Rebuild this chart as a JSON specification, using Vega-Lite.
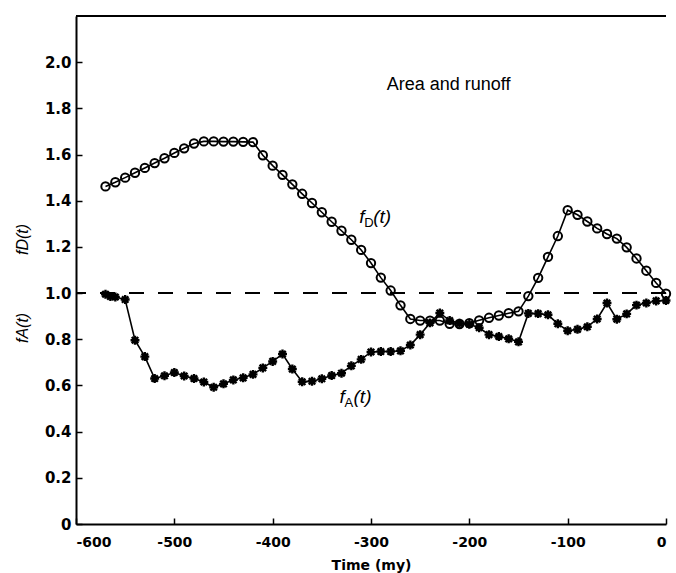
{
  "$schema": "https://vega.github.io/schema/vega-lite/v6.json",
  "width": 676,
  "height": 573,
  "autosize": {"type": "fit", "contains": "padding"},
  "padding": {"left": 14, "top": 15, "right": 0, "bottom": 1},
  "background": "white",
  "config": {"view": {"stroke": null}, "font": "Liberation Sans"},
  "datasets": {
    "curves": [
      {"t": -570, "v": 1.462, "s": "fD"}, {"t": -560, "v": 1.480, "s": "fD"}, {"t": -550, "v": 1.500, "s": "fD"},
      {"t": -540, "v": 1.521, "s": "fD"}, {"t": -530, "v": 1.542, "s": "fD"}, {"t": -520, "v": 1.563, "s": "fD"},
      {"t": -510, "v": 1.584, "s": "fD"}, {"t": -500, "v": 1.607, "s": "fD"}, {"t": -490, "v": 1.627, "s": "fD"},
      {"t": -480, "v": 1.648, "s": "fD"}, {"t": -470, "v": 1.657, "s": "fD"}, {"t": -460, "v": 1.657, "s": "fD"},
      {"t": -450, "v": 1.656, "s": "fD"}, {"t": -440, "v": 1.656, "s": "fD"}, {"t": -430, "v": 1.655, "s": "fD"},
      {"t": -420, "v": 1.654, "s": "fD"}, {"t": -410, "v": 1.597, "s": "fD"}, {"t": -400, "v": 1.552, "s": "fD"},
      {"t": -390, "v": 1.512, "s": "fD"}, {"t": -380, "v": 1.471, "s": "fD"}, {"t": -370, "v": 1.430, "s": "fD"},
      {"t": -360, "v": 1.390, "s": "fD"}, {"t": -350, "v": 1.350, "s": "fD"}, {"t": -340, "v": 1.309, "s": "fD"},
      {"t": -330, "v": 1.270, "s": "fD"}, {"t": -320, "v": 1.231, "s": "fD"}, {"t": -310, "v": 1.187, "s": "fD"},
      {"t": -300, "v": 1.130, "s": "fD"}, {"t": -290, "v": 1.067, "s": "fD"}, {"t": -280, "v": 1.011, "s": "fD"},
      {"t": -270, "v": 0.947, "s": "fD"}, {"t": -260, "v": 0.888, "s": "fD"}, {"t": -250, "v": 0.881, "s": "fD"},
      {"t": -240, "v": 0.881, "s": "fD"}, {"t": -230, "v": 0.881, "s": "fD"}, {"t": -220, "v": 0.867, "s": "fD"},
      {"t": -210, "v": 0.866, "s": "fD"}, {"t": -200, "v": 0.870, "s": "fD"}, {"t": -190, "v": 0.882, "s": "fD"},
      {"t": -180, "v": 0.893, "s": "fD"}, {"t": -170, "v": 0.903, "s": "fD"}, {"t": -160, "v": 0.913, "s": "fD"},
      {"t": -150, "v": 0.921, "s": "fD"}, {"t": -140, "v": 0.987, "s": "fD"}, {"t": -130, "v": 1.066, "s": "fD"},
      {"t": -120, "v": 1.157, "s": "fD"}, {"t": -110, "v": 1.247, "s": "fD"}, {"t": -100, "v": 1.359, "s": "fD"},
      {"t": -90, "v": 1.339, "s": "fD"}, {"t": -80, "v": 1.310, "s": "fD"}, {"t": -70, "v": 1.280, "s": "fD"},
      {"t": -60, "v": 1.256, "s": "fD"}, {"t": -50, "v": 1.236, "s": "fD"}, {"t": -40, "v": 1.198, "s": "fD"},
      {"t": -30, "v": 1.150, "s": "fD"}, {"t": -20, "v": 1.097, "s": "fD"}, {"t": -10, "v": 1.044, "s": "fD"},
      {"t": 0, "v": 0.997, "s": "fD"},
      {"t": -570, "v": 0.995, "s": "fA"}, {"t": -565, "v": 0.985, "s": "fA"}, {"t": -560, "v": 0.983, "s": "fA"},
      {"t": -550, "v": 0.972, "s": "fA"}, {"t": -540, "v": 0.796, "s": "fA"}, {"t": -530, "v": 0.725, "s": "fA"},
      {"t": -520, "v": 0.630, "s": "fA"}, {"t": -510, "v": 0.642, "s": "fA"}, {"t": -500, "v": 0.656, "s": "fA"},
      {"t": -490, "v": 0.641, "s": "fA"}, {"t": -480, "v": 0.630, "s": "fA"}, {"t": -470, "v": 0.615, "s": "fA"},
      {"t": -460, "v": 0.592, "s": "fA"}, {"t": -450, "v": 0.607, "s": "fA"}, {"t": -440, "v": 0.624, "s": "fA"},
      {"t": -430, "v": 0.633, "s": "fA"}, {"t": -420, "v": 0.648, "s": "fA"}, {"t": -410, "v": 0.676, "s": "fA"},
      {"t": -400, "v": 0.704, "s": "fA"}, {"t": -390, "v": 0.736, "s": "fA"}, {"t": -380, "v": 0.671, "s": "fA"},
      {"t": -370, "v": 0.616, "s": "fA"}, {"t": -360, "v": 0.618, "s": "fA"}, {"t": -350, "v": 0.629, "s": "fA"},
      {"t": -340, "v": 0.643, "s": "fA"}, {"t": -330, "v": 0.653, "s": "fA"}, {"t": -320, "v": 0.685, "s": "fA"},
      {"t": -310, "v": 0.713, "s": "fA"}, {"t": -300, "v": 0.745, "s": "fA"}, {"t": -290, "v": 0.747, "s": "fA"},
      {"t": -280, "v": 0.747, "s": "fA"}, {"t": -270, "v": 0.750, "s": "fA"}, {"t": -260, "v": 0.775, "s": "fA"},
      {"t": -250, "v": 0.820, "s": "fA"}, {"t": -240, "v": 0.871, "s": "fA"}, {"t": -230, "v": 0.914, "s": "fA"},
      {"t": -220, "v": 0.881, "s": "fA"}, {"t": -210, "v": 0.869, "s": "fA"}, {"t": -200, "v": 0.865, "s": "fA"},
      {"t": -190, "v": 0.850, "s": "fA"}, {"t": -180, "v": 0.820, "s": "fA"}, {"t": -170, "v": 0.812, "s": "fA"},
      {"t": -160, "v": 0.802, "s": "fA"}, {"t": -150, "v": 0.789, "s": "fA"}, {"t": -140, "v": 0.912, "s": "fA"},
      {"t": -130, "v": 0.911, "s": "fA"}, {"t": -120, "v": 0.906, "s": "fA"}, {"t": -110, "v": 0.867, "s": "fA"},
      {"t": -100, "v": 0.837, "s": "fA"}, {"t": -90, "v": 0.843, "s": "fA"}, {"t": -80, "v": 0.854, "s": "fA"},
      {"t": -70, "v": 0.888, "s": "fA"}, {"t": -60, "v": 0.957, "s": "fA"}, {"t": -50, "v": 0.887, "s": "fA"},
      {"t": -40, "v": 0.910, "s": "fA"}, {"t": -30, "v": 0.948, "s": "fA"}, {"t": -20, "v": 0.957, "s": "fA"},
      {"t": -10, "v": 0.966, "s": "fA"}, {"t": 0, "v": 0.968, "s": "fA"}
    ],
    "curveLabels": [
      {"t": -312, "v": 1.33, "sub": "D"},
      {"t": -332, "v": 0.55, "sub": "A"}
    ],
    "note": [{"t": -284, "v": 1.90, "txt": "Area and runoff"}],
    "refs": [{"v": 1.0}],
    "frame": [{"v": 2.2}]
  },
  "layer": [
    {
      "data": {"name": "frame"},
      "mark": {"type": "rule", "color": "black", "strokeWidth": 2},
      "encoding": {
        "y": {"field": "v", "type": "quantitative", "scale": {"domain": [0, 2.2], "nice": false, "zero": true}}
      }
    },
    {
      "data": {"name": "refs"},
      "mark": {"type": "rule", "color": "black", "strokeWidth": 2, "strokeDash": [15, 14]},
      "encoding": {
        "y": {"field": "v", "type": "quantitative"}
      }
    },
    {
      "data": {"name": "curves"},
      "mark": {"type": "line", "color": "black", "strokeWidth": 1.6},
      "encoding": {
        "x": {
          "field": "t", "type": "quantitative",
          "scale": {"domain": [-600, 0], "nice": false, "zero": false},
          "axis": {
            "values": [-600, -500, -400, -300, -200, -100, 0],
            "labelExpr": "replace(datum.label, '−', '-')",
            "labelFlush": true,
            "grid": false,
            "tickSize": -6, "tickWidth": 1.5, "tickColor": "black",
            "domainColor": "black", "domainWidth": 2,
            "labelPadding": 17, "labelFont": "DejaVu Sans", "labelFontWeight": "bold", "labelFontSize": 14, "labelColor": "black",
            "title": "Time (my)", "titleFont": "DejaVu Sans", "titleFontWeight": "bold", "titleFontSize": 14, "titleColor": "black", "titlePadding": 9
          }
        },
        "y": {
          "field": "v", "type": "quantitative",
          "axis": {
            "values": [0, 0.2, 0.4, 0.6, 0.8, 1.0, 1.2, 1.4, 1.6, 1.8, 2.0],
            "format": ".1f",
            "labelExpr": "datum.value == 0 ? '0' : datum.label",
            "grid": false,
            "tickSize": -6, "tickWidth": 1.5, "tickColor": "black",
            "domainColor": "black", "domainWidth": 2,
            "labelPadding": 11, "labelFont": "DejaVu Sans", "labelFontWeight": "bold", "labelFontSize": 15, "labelColor": "black",
            "title": "fA(t)\u00a0\u00a0\u00a0\u00a0\u00a0\u00a0\u00a0\u00a0\u00a0\u00a0\u00a0\u00a0\u00a0fD(t)", "titleFont": "Liberation Sans", "titleFontStyle": "italic", "titleFontWeight": "normal",
            "titleFontSize": 16, "titleColor": "black", "titlePadding": 14, "titleY": 267
          }
        },
        "detail": {"field": "s", "type": "nominal"}
      }
    },
    {
      "data": {"name": "curves"},
      "mark": {"type": "point", "filled": false, "stroke": "black", "opacity": 1},
      "encoding": {
        "x": {"field": "t", "type": "quantitative"},
        "y": {"field": "v", "type": "quantitative"},
        "shape": {
          "field": "s", "type": "nominal", "legend": null,
          "scale": {"domain": ["fD", "fA"], "range": ["circle", "M-1,0L1,0M0,-1L0,1M-0.72,-0.72L0.72,0.72M-0.72,0.72L0.72,-0.72"]}
        },
        "size": {
          "field": "s", "type": "nominal", "legend": null,
          "scale": {"domain": ["fD", "fA"], "range": [70, 80]}
        },
        "strokeWidth": {
          "field": "s", "type": "nominal", "legend": null,
          "scale": {"domain": ["fD", "fA"], "range": [2, 2.4]}
        }
      }
    },
    {
      "data": {"name": "note"},
      "mark": {"type": "text", "align": "left", "baseline": "middle", "font": "Liberation Sans", "fontSize": 18, "color": "black"},
      "encoding": {
        "x": {"field": "t", "type": "quantitative"},
        "y": {"field": "v", "type": "quantitative"},
        "text": {"field": "txt"}
      }
    },
    {
      "data": {"name": "curveLabels"},
      "mark": {"type": "text", "text": "f", "align": "left", "baseline": "middle", "font": "Liberation Sans", "fontStyle": "italic", "fontSize": 19, "color": "black"},
      "encoding": {
        "x": {"field": "t", "type": "quantitative"},
        "y": {"field": "v", "type": "quantitative"}
      }
    },
    {
      "data": {"name": "curveLabels"},
      "mark": {"type": "text", "align": "left", "baseline": "middle", "dx": 5, "dy": 6, "font": "Liberation Sans", "fontSize": 13, "color": "black"},
      "encoding": {
        "x": {"field": "t", "type": "quantitative"},
        "y": {"field": "v", "type": "quantitative"},
        "text": {"field": "sub"}
      }
    },
    {
      "data": {"name": "curveLabels"},
      "mark": {"type": "text", "text": "(t)", "align": "left", "baseline": "middle", "dx": 14, "font": "Liberation Sans", "fontStyle": "italic", "fontSize": 19, "color": "black"},
      "encoding": {
        "x": {"field": "t", "type": "quantitative"},
        "y": {"field": "v", "type": "quantitative"}
      }
    }
  ]
}
